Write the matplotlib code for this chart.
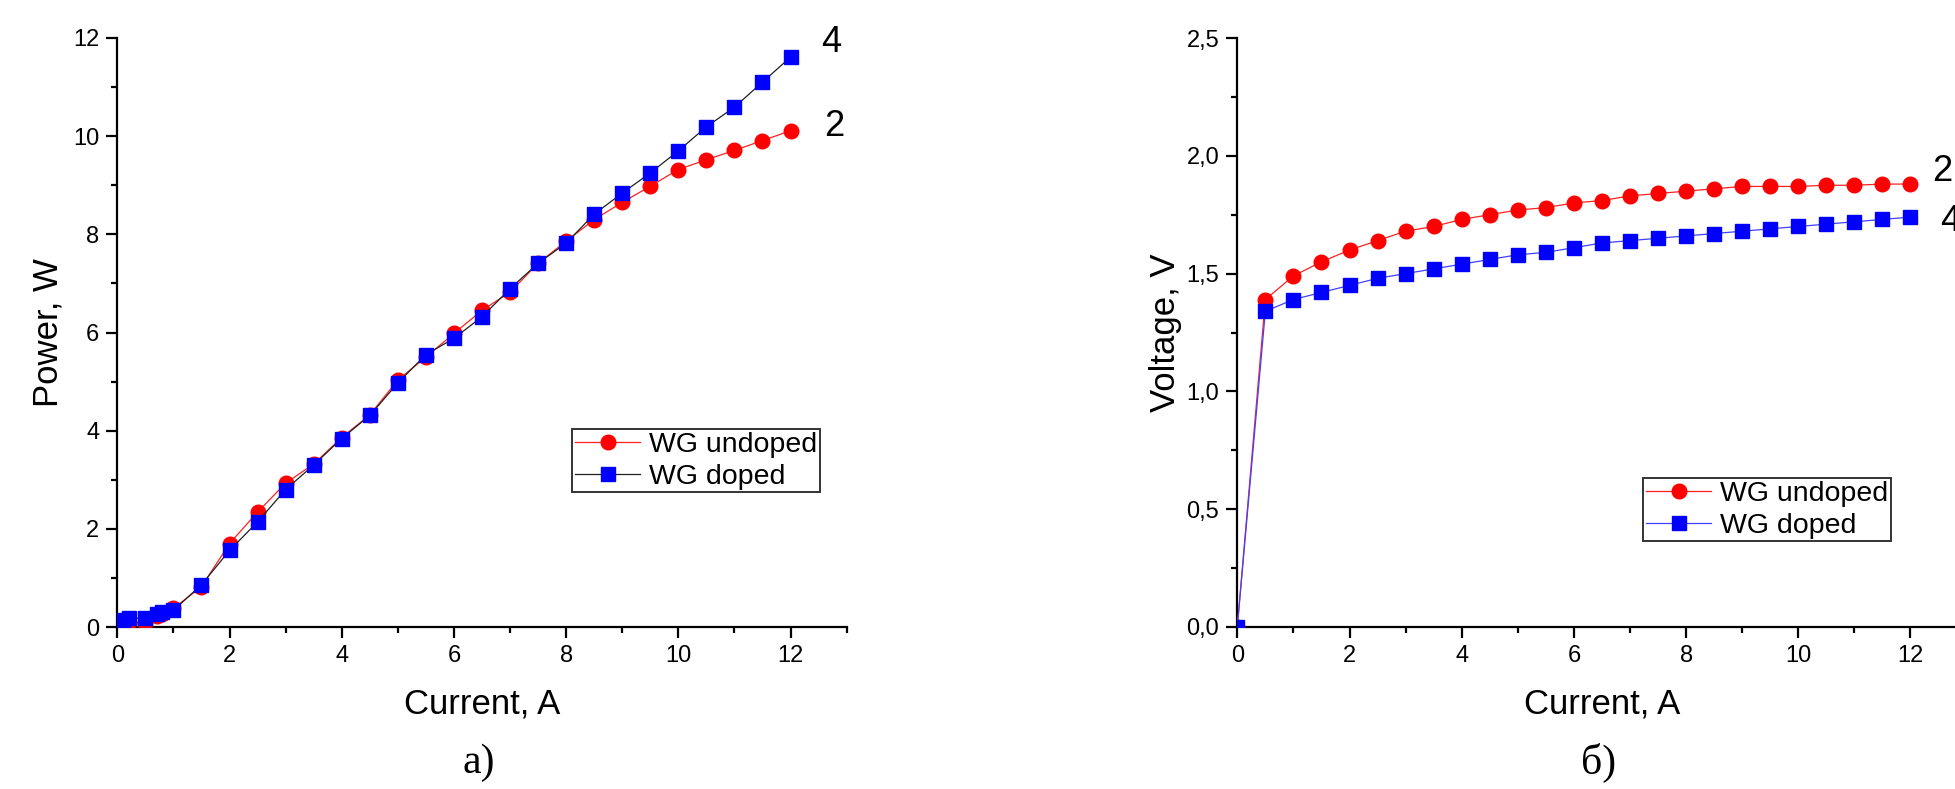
import matplotlib
matplotlib.use("Agg")
import matplotlib.pyplot as plt
from matplotlib.ticker import MultipleLocator, FixedLocator, FixedFormatter

# ---------------- data ----------------
current_p = [0.1, 0.2, 0.5, 0.7, 0.8, 1.0, 1.5, 2.0, 2.5, 3.0, 3.5, 4.0, 4.5, 5.0,
             5.5, 6.0, 6.5, 7.0, 7.5, 8.0, 8.5, 9.0, 9.5, 10.0, 10.5, 11.0, 11.5, 12.0]
power_undoped = [0.05, 0.10, 0.08, 0.22, 0.27, 0.38, 0.82, 1.70, 2.34, 2.93, 3.32, 3.86,
                 4.32, 5.03, 5.50, 5.98, 6.45, 6.82, 7.41, 7.86, 8.30, 8.65, 8.98, 9.32,
                 9.52, 9.71, 9.91, 10.11]
power_doped = [0.14, 0.18, 0.18, 0.27, 0.30, 0.34, 0.86, 1.56, 2.14, 2.80, 3.30, 3.84,
               4.31, 4.97, 5.55, 5.88, 6.32, 6.89, 7.41, 7.82, 8.41, 8.84, 9.25, 9.70,
               10.19, 10.59, 11.10, 11.61]

current_v = [0.0, 0.5, 1.0, 1.5, 2.0, 2.5, 3.0, 3.5, 4.0, 4.5, 5.0, 5.5, 6.0, 6.5,
             7.0, 7.5, 8.0, 8.5, 9.0, 9.5, 10.0, 10.5, 11.0, 11.5, 12.0]
voltage_undoped = [0.0, 1.39, 1.49, 1.55, 1.60, 1.64, 1.68, 1.70, 1.73, 1.75, 1.77, 1.78,
                   1.80, 1.81, 1.83, 1.84, 1.85, 1.86, 1.87, 1.87, 1.87, 1.875, 1.875,
                   1.88, 1.88]
voltage_doped = [0.0, 1.34, 1.39, 1.42, 1.45, 1.48, 1.50, 1.52, 1.54, 1.56, 1.58, 1.59,
                 1.61, 1.63, 1.64, 1.65, 1.66, 1.67, 1.68, 1.69, 1.70, 1.71, 1.72, 1.73,
                 1.74]

x_ticks = [0, 2, 4, 6, 8, 10, 12]
x_ticklabels = ["0", "2", "4", "6", "8", "10", "12"]
p_ticks = [0, 2, 4, 6, 8, 10, 12]
p_ticklabels = ["0", "2", "4", "6", "8", "10", "12"]
v_ticks = [0.0, 0.5, 1.0, 1.5, 2.0, 2.5]
v_ticklabels = ["0,0", "0,5", "1,0", "1,5", "2,0", "2,5"]

series_labels = ["WG undoped", "WG doped"]
curve_numbers_p = ["2", "4"]
curve_numbers_v = ["2", "4"]
captions = ["а)", "б)"]

# ---------------- style ----------------
plt.rcParams["font.family"] = ["Liberation Sans", "DejaVu Sans"]
SANS = ["Liberation Sans", "DejaVu Sans"]
SERIF = ["Liberation Serif", "DejaVu Serif"]

W, H = 1956, 789
fig = plt.figure(figsize=(W / 100, H / 100), dpi=100)

def px_axes(x0, y_bottom, x1, y_top):
    return [x0 / W, 1 - y_bottom / H, (x1 - x0) / W, (y_bottom - y_top) / H]

axL = fig.add_axes(px_axes(117.3, 627, 846.6, 38))
axR = fig.add_axes(px_axes(1237.3, 627, 1966.6, 38))

def style_axis(ax):
    for s in ("top", "right"):
        ax.spines[s].set_visible(False)
    for s in ("left", "bottom"):
        ax.spines[s].set_linewidth(1.6)
        ax.spines[s].set_color("black")
    ax.tick_params(which="major", direction="out", length=8, width=1.6,
                   labelsize=17, pad=5, colors="black")
    ax.tick_params(which="minor", direction="out", length=4, width=1.6)
    ax.set_xlim(0, 13)
    ax.xaxis.set_major_locator(FixedLocator(x_ticks))
    ax.xaxis.set_major_formatter(FixedFormatter(x_ticklabels))
    ax.xaxis.set_minor_locator(MultipleLocator(1))
    ax.set_xlabel("Current, A", fontsize=25, labelpad=15)

legend_kw = dict(loc="upper left", borderaxespad=0, fontsize=20.5, handlelength=2.3,
                 handletextpad=0.3, borderpad=0.1, labelspacing=0.2, fancybox=False,
                 framealpha=1, edgecolor="#333333")

# ---- left: power ----
style_axis(axL)
axL.set_ylim(0, 12)
axL.yaxis.set_major_locator(FixedLocator(p_ticks))
axL.yaxis.set_major_formatter(FixedFormatter(p_ticklabels))
axL.yaxis.set_minor_locator(MultipleLocator(1))
axL.set_ylabel("Power, W", fontsize=25, labelpad=6)

axL.plot(current_p, power_undoped, color="#ff2020", lw=0.9, marker="o", ms=10.5,
         mfc="#ff0000", mec="#ff0000", label=series_labels[0], zorder=3)
axL.plot(current_p, power_doped, color="#202020", lw=0.9, marker="s", ms=9.5,
         mfc="#0000ff", mec="#0000ff", label=series_labels[1], zorder=4)

axL.text(12.55, 11.9, curve_numbers_p[1], fontsize=26, ha="left", va="center",
         family=SANS)
axL.text(12.6, 10.2, curve_numbers_p[0], fontsize=26, ha="left", va="center",
         family=SANS)

legL = axL.legend(bbox_to_anchor=(0.6235, 0.336), **legend_kw)
legL.get_frame().set_linewidth(1.4)

# ---- right: voltage ----
style_axis(axR)
axR.set_ylim(0, 2.5)
axR.yaxis.set_major_locator(FixedLocator(v_ticks))
axR.yaxis.set_major_formatter(FixedFormatter(v_ticklabels))
axR.yaxis.set_minor_locator(MultipleLocator(0.25))
axR.set_ylabel("Voltage, V", fontsize=25, labelpad=3)

axR.plot(current_v, voltage_undoped, color="#ff2020", lw=0.9, marker="o", ms=10.5,
         mfc="#ff0000", mec="#ff0000", label=series_labels[0], zorder=3)
axR.plot(current_v, voltage_doped, color="#4040ff", lw=0.9, marker="s", ms=9.5,
         mfc="#0000ff", mec="#0000ff", label=series_labels[1], zorder=4)

axR.text(12.38, 1.935, curve_numbers_v[0], fontsize=26, ha="left", va="center",
         family=SANS, clip_on=False)
axR.text(12.52, 1.72, curve_numbers_v[1], fontsize=26, ha="left", va="center",
         family=SANS, clip_on=False)

legR = axR.legend(bbox_to_anchor=(0.5563, 0.253), **legend_kw)
legR.get_frame().set_linewidth(1.4)

# ---- captions ----
fig.text(479 / W, 1 - 763 / H, captions[0], fontsize=30, ha="center", va="center",
         family=SERIF)
fig.text(1599 / W, 1 - 763 / H, captions[1], fontsize=30, ha="center", va="center",
         family=SERIF)

fig.savefig("out.png", dpi=100)
